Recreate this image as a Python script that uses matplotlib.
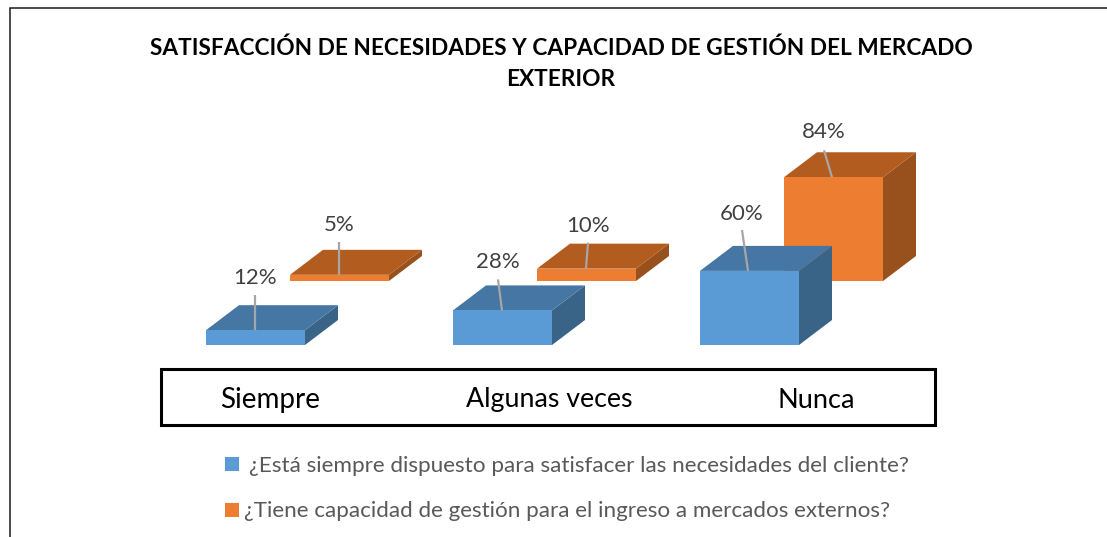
import matplotlib
matplotlib.use("Agg")
import matplotlib.pyplot as plt
from matplotlib.patches import Polygon, Rectangle

plt.rcParams['font.family'] = ['Lato', 'DejaVu Sans']

categories = ["Siempre", "Algunas veces", "Nunca"]
series_names = ["¿Está siempre dispuesto para satisfacer las necesidades del cliente?",
                "¿Tiene capacidad de gestión para el ingreso a mercados externos?"]
siempre_dispuesto = [12, 28, 60]
capacidad_gestion = [5, 10, 84]
title_lines = "SATISFACCIÓN DE NECESIDADES Y CAPACIDAD DE GESTIÓN DEL MERCADO\nEXTERIOR"

W, H = 1107, 537
PX_X = 247.0      # pixels per category
PX_Y = 1.235      # pixels per percentage point
X0, Y0 = 206.0, 345.0

fig = plt.figure(figsize=(W / 100, H / 100), dpi=100, facecolor="white")
ax = fig.add_axes([0, 0, 1, 1])
ax.set_xlim(-X0 / PX_X, (W - X0) / PX_X)
ax.set_ylim(-(H - Y0) / PX_Y, Y0 / PX_Y)
ax.axis("off")

overlay = fig.add_axes([0, 0, 1, 1], zorder=5)
overlay.set_xlim(0, W)
overlay.set_ylim(H, 0)
overlay.axis("off")
overlay.patch.set_alpha(0)

bar_w = 99 / PX_X
depth_x, depth_y = 33 / PX_X, 25 / PX_Y
row_x, row_y = 84 / PX_X, 64 / PX_Y


def bar3d(i, v, dx, dy, front, top, side, z):
    x0, x1 = i + dx, i + dx + bar_w
    y0, y1 = dy, dy + v
    ax.add_patch(Polygon([(x1, y0), (x1 + depth_x, y0 + depth_y), (x1 + depth_x, y1 + depth_y), (x1, y1)],
                         closed=True, fc=side, ec="none", zorder=z))
    ax.add_patch(Polygon([(x0, y1), (x1, y1), (x1 + depth_x, y1 + depth_y), (x0 + depth_x, y1 + depth_y)],
                         closed=True, fc=top, ec="none", zorder=z))
    ax.add_patch(Rectangle((x0, y0), bar_w, v, fc=front, ec="none", zorder=z))


def label(i, v, dx, dy, txt, base_px, tip_px, text_px, z):
    """base_px: x offset from bar left where the leader meets the top edge;
    tip_px: (dx, dy) of leader tip from base; text_px: text centre from base."""
    xb = i + dx + base_px / PX_X
    yb = dy + v
    ax.plot([xb, xb + tip_px[0] / PX_X], [yb, yb + tip_px[1] / PX_Y], color="#a6a6a6", lw=1.6,
            solid_capstyle="butt", zorder=z)
    ax.text(xb + text_px[0] / PX_X, yb + text_px[1] / PX_Y, txt, ha="center", va="center",
            fontsize=LABEL_FS, color="#404040", zorder=z)


LABEL_FS = 16
BLUE = ("#5b9bd5", "#4676a3", "#3a6388")
ORANGE = ("#ed7d31", "#b35c20", "#98501c")

for i, v in enumerate(capacidad_gestion):
    bar3d(i, v, row_x, row_y, *ORANGE, z=2)
for i, v in enumerate(siempre_dispuesto):
    bar3d(i, v, 0, 0, *BLUE, z=3)

blue_lab = [(49, (0, 35), (0, 52)), (49, (-4, 31), (-4, 48)), (48, (-6, 41), (-6, 57))]
orange_lab = [(49, (0, 33), (0, 50)), (49, (2, 26), (2, 43)), (48, (-8, 27), (-8, 45))]
for i, v in enumerate(capacidad_gestion):
    b, t, p = orange_lab[i]
    label(i, v, row_x, row_y, f"{v}%", b, t, p, 4)
for i, v in enumerate(siempre_dispuesto):
    b, t, p = blue_lab[i]
    label(i, v, 0, 0, f"{v}%", b, t, p, 4)

# outer frame of the pasted image
overlay.plot([9.5, 9.5, W], [H, 8, 8], color="#1a1a1a", lw=1.1, solid_joinstyle="miter")

# title
overlay.text(561, 64, title_lines, ha="center", va="center", fontsize=16.3, fontweight="bold",
             color="black", linespacing=1.6)

# category box
overlay.add_patch(Rectangle((161, 368.5), 774, 56, fc="white", ec="black", lw=2.2))
for cx, cat, fs in zip([270.5, 549, 816.5], categories, [20, 19.3, 19.5]):
    overlay.text(cx, 400, cat, ha="center", va="center", fontsize=fs, color="black")

# legend
overlay.add_patch(Rectangle((225, 457), 14, 14, fc=BLUE[0], ec="none"))
overlay.add_patch(Rectangle((225, 503), 14, 14, fc=ORANGE[0], ec="none"))
overlay.text(249, 466, series_names[0], ha="left", va="center", fontsize=16.2, color="#595959")
overlay.text(244, 511, series_names[1], ha="left", va="center", fontsize=16.1, color="#595959")

fig.savefig("out.png", dpi=100, facecolor="white")
